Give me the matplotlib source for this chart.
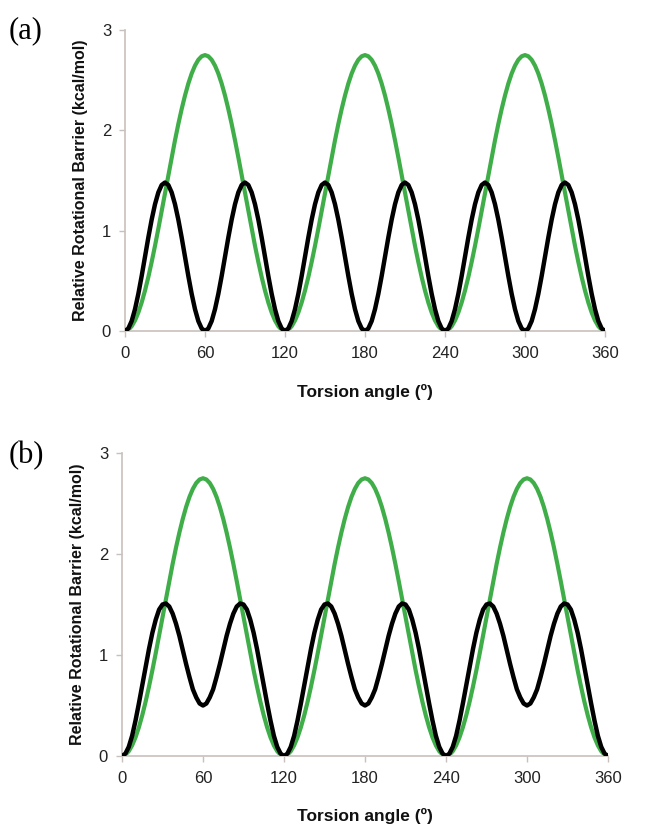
import matplotlib
matplotlib.use("Agg")
import matplotlib.pyplot as plt

# torsion angle, degrees (read every 2.5 deg)
angle = [i * 2.5 for i in range(145)]

# green curve, same in both panels (3-fold, peak 2.75); values 0..60 deg
green_half = [0, 0.012, 0.047, 0.105, 0.184, 0.284, 0.403, 0.538, 0.688, 0.849,
              1.019, 1.196, 1.375, 1.554, 1.731, 1.901, 2.063, 2.212, 2.347,
              2.466, 2.566, 2.645, 2.703, 2.738, 2.75]
green = (green_half + green_half[-2::-1][:-1]) * 3 + [0]

# black curve, panel (a) (6-fold, peak ~1.48); values 0..30 deg
black_a_half = [0, 0.025, 0.099, 0.217, 0.37, 0.548, 0.74, 0.932, 1.11, 1.263,
                1.381, 1.455, 1.48]
black_a = (black_a_half + black_a_half[-2::-1][:-1]) * 6 + [0]

# black curve, panel (b) (peaks ~1.51, local minima 0.5 at 60/180/300); values 0..60 deg
black_b_half = [0, 0.023, 0.09, 0.20, 0.35, 0.52, 0.70, 0.88, 1.06, 1.22, 1.35,
                1.45, 1.50, 1.51, 1.48, 1.41, 1.31, 1.19, 1.05, 0.91, 0.78, 0.66,
                0.58, 0.52, 0.50]
black_b = (black_b_half + black_b_half[-2::-1][:-1]) * 3 + [0]

xticks = [0, 60, 120, 180, 240, 300, 360]
yticks = [0, 1, 2, 3]

GREEN = "#3fae49"
AXCOL = "#c8c0bc"
SANS = ["Liberation Sans", "DejaVu Sans"]

fig = plt.figure(figsize=(6.53, 8.26), dpi=100)
W, H = 653, 826

def panel(box, black, tag, tagy):
    x0, y0, x1, y1 = box
    ax = fig.add_axes([x0 / W, 1 - y1 / H, (x1 - x0) / W, (y1 - y0) / H])
    ax.plot(angle, green, color=GREEN, lw=3.0, solid_capstyle="round",
            solid_joinstyle="round", zorder=2)
    ax.plot(angle, black, color="black", lw=3.2, solid_capstyle="round",
            solid_joinstyle="round", zorder=3)
    ax.set_xlim(0, 360)
    ax.set_ylim(0, 3)
    ax.set_xticks(xticks)
    ax.set_yticks(yticks)
    for s in ["top", "right"]:
        ax.spines[s].set_visible(False)
    for s in ["left", "bottom"]:
        ax.spines[s].set_color(AXCOL)
        ax.spines[s].set_linewidth(1.2)
    ax.tick_params(axis="both", colors=AXCOL, labelcolor="#222222", labelsize=12,
                   length=4, width=1.0, direction="out")
    ax.tick_params(axis="x", pad=7)
    ax.tick_params(axis="y", pad=6)
    for lab in ax.get_xticklabels() + ax.get_yticklabels():
        lab.set_family(SANS)
    ax.set_xlabel("Torsion angle (\u00ba)", fontsize=12.5, fontweight="bold",
                  family=SANS, labelpad=16, color="#111111")
    ax.set_ylabel("Relative Rotational Barrier (kcal/mol)", fontsize=11.5, fontweight="bold",
                  family=SANS, labelpad=10, color="#111111")
    fig.text(9 / W, 1 - tagy / H, tag, fontsize=22, family=["Liberation Serif", "DejaVu Serif"],
             va="center", ha="left")
    return ax

panel((125, 30, 605, 331), black_a, "(a)", 31)
panel((122, 453, 608, 756), black_b, "(b)", 456)

fig.savefig("out.png", dpi=100)
